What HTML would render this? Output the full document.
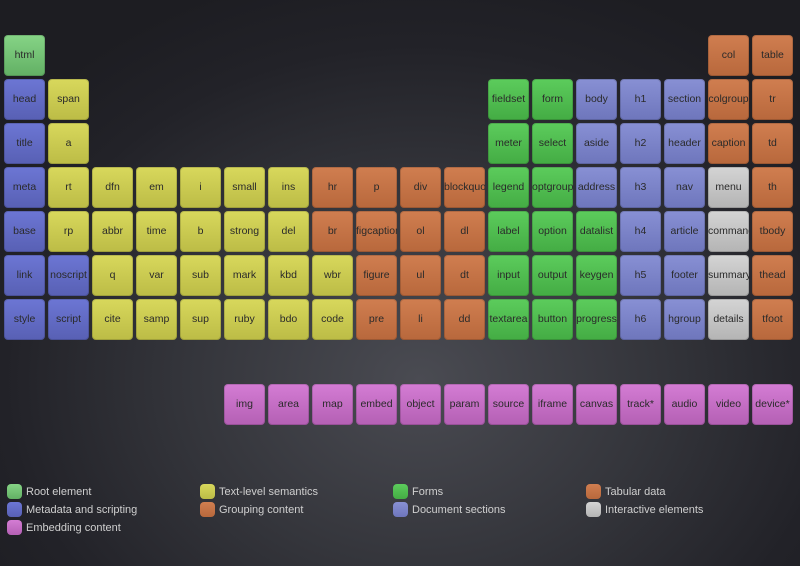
<!DOCTYPE html>
<html><head><meta charset="utf-8"><style>
html,body{margin:0;padding:0;}
body{width:800px;height:566px;overflow:hidden;position:relative;font-family:"Liberation Sans","DejaVu Sans",sans-serif;
background:radial-gradient(ellipse 520px 420px at 420px 380px,#4a4b52 0%,#34353b 45%,#222228 80%,#1d1d22 100%);}
.t{position:absolute;width:41px;height:41px;border-radius:4px;text-align:center;line-height:41px;font-size:10.5px;color:#2a2a2a;white-space:nowrap;overflow:hidden;box-shadow:inset 0 0 0 1px rgba(0,0,0,0.15);}
.r{background:linear-gradient(#86d486,#62b064);}
.m{background:linear-gradient(#6c76d4,#5860b4);}
.x{background:linear-gradient(#d8d85c,#bcbc46);}
.g{background:linear-gradient(#d07e50,#b8683c);}
.f{background:linear-gradient(#5ccc5c,#44ac44);}
.s{background:linear-gradient(#8890d4,#6e76bc);}
.i{background:linear-gradient(#d4d4d4,#b4b4b4);}
.e{background:linear-gradient(#d47cd4,#b460b4);}
.tb{background:linear-gradient(#d07e50,#b8683c);}
.l{position:absolute;font-size:11px;color:#cfcfcf;line-height:14px;}
.l i{position:absolute;left:-19px;top:-1px;width:15px;height:15px;border-radius:4px;}
</style></head><body>
<div id="g"></div>
<script>
var rows=[
[[0,'html','r'],[16,'col','tb'],[17,'table','tb']],
[[0,'head','m'],[1,'span','x'],[11,'fieldset','f'],[12,'form','f'],[13,'body','s'],[14,'h1','s'],[15,'section','s'],[16,'colgroup','tb'],[17,'tr','tb']],
[[0,'title','m'],[1,'a','x'],[11,'meter','f'],[12,'select','f'],[13,'aside','s'],[14,'h2','s'],[15,'header','s'],[16,'caption','tb'],[17,'td','tb']],
'meta m|rt x|dfn x|em x|i x|small x|ins x|hr g|p g|div g|blockquote g|legend f|optgroup f|address s|h3 s|nav s|menu i|th tb',
'base m|rp x|abbr x|time x|b x|strong x|del x|br g|figcaption g|ol g|dl g|label f|option f|datalist f|h4 s|article s|command i|tbody tb',
'link m|noscript m|q x|var x|sub x|mark x|kbd x|wbr x|figure g|ul g|dt g|input f|output f|keygen f|h5 s|footer s|summary i|thead tb',
'style m|script m|cite x|samp x|sup x|ruby x|bdo x|code x|pre g|li g|dd g|textarea f|button f|progress f|h6 s|hgroup s|details i|tfoot tb'
];
var h='';
function tile(c,y,t,k){h+='<div class="t '+k+'" style="left:'+(4+44*c)+'px;top:'+y+'px">'+t+'</div>';}
rows.forEach(function(r,ri){var y=35+44*ri;
 if(typeof r==='string'){r.split('|').forEach(function(s,c){var p=s.split(' ');tile(c,y,p[0],p[1]);});}
 else r.forEach(function(a){tile(a[0],y,a[1],a[2]);});});
'img area map embed object param source iframe canvas track* audio video device*'.split(' ').forEach(function(t,j){tile(5+j,384,t,'e');});
document.getElementById('g').innerHTML=h;
</script>
<div class="l" style="left:26px;top:485px"><i class="r"></i>Root element</div>
<div class="l" style="left:26px;top:503px"><i class="m"></i>Metadata and scripting</div>
<div class="l" style="left:26px;top:521px"><i class="e"></i>Embedding content</div>
<div class="l" style="left:219px;top:485px"><i class="x"></i>Text-level semantics</div>
<div class="l" style="left:219px;top:503px"><i class="g"></i>Grouping content</div>
<div class="l" style="left:412px;top:485px"><i class="f"></i>Forms</div>
<div class="l" style="left:412px;top:503px"><i class="s"></i>Document sections</div>
<div class="l" style="left:605px;top:485px"><i class="tb"></i>Tabular data</div>
<div class="l" style="left:605px;top:503px"><i class="i"></i>Interactive elements</div>
</body></html>
